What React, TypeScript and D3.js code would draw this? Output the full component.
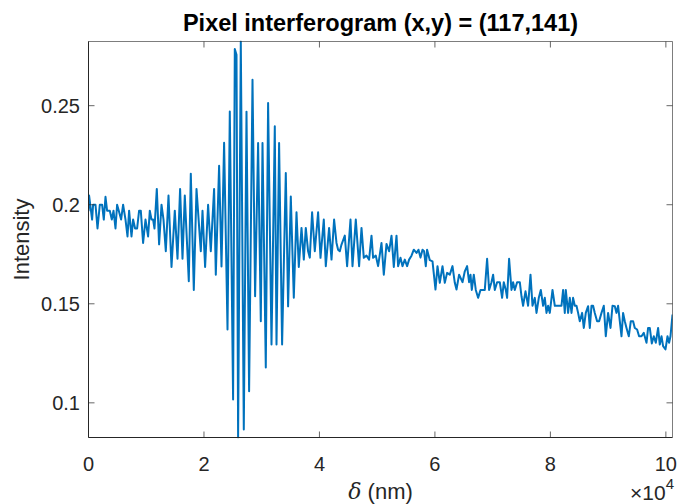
import React from 'react';
import * as d3 from 'd3';

const delta: number[] = [
  0, 104, 624, 797, 1212, 1559, 1957, 2356, 2650, 2944,
  3222, 3689, 4036, 4330, 4676, 4954, 5248, 5646, 5993, 6408,
  6755, 7032, 7448, 7725, 8071, 8418, 8764, 9058, 9457, 9872,
  10323, 10617, 10912, 11189, 11431, 11830, 12228, 12644, 12990, 13388,
  13856, 14376, 14947, 15415, 15865, 16281, 16679, 17372, 17718, 18238,
  18706, 19450, 19745, 20195, 20715, 21182, 21754, 22048,
  22620, 23036, 23486, 24075, 24473, 25045, 25339, 25634, 25911, 26378,
  26898, 27366, 27816, 28405, 28855, 29375, 29842, 30137, 30708, 31107,
  31696, 32267, 32562, 33012, 33532, 34172, 34571, 35038, 35558, 36026,
  36424, 36892, 37290, 37636, 38035, 38329, 38728, 39195, 39767, 40182,
  40754, 41100, 41672,
  42088, 42538, 42954, 43231, 43525, 43820, 44391, 44790, 45378, 45725,
  46296, 46868, 47284, 47682, 48150, 48600, 49016, 49293, 49760, 50159,
  50748, 51146, 51614, 52064, 52480, 52878, 53346, 53623, 54038, 54385,
  54783, 55182, 55528, 55944, 56342, 56810, 57156, 57502, 57849, 58126,
  58420, 58646, 59113, 59581, 60100, 60447, 60845, 61313, 61711, 62110,
  62577, 63045, 63443, 63738, 64188,
  64777, 65175, 65574, 65920, 66162, 66388, 66734, 67080, 67479, 67894,
  68241, 68639, 69038, 69384, 69800, 70077, 70371, 70770, 71237, 71636,
  71930, 72276, 72502, 72848, 73264, 73541, 73835, 74234, 74701, 74996,
  75273, 75688, 76139, 76554, 76901, 77299, 77594, 77992, 78338, 78737,
  79031, 79326, 79603, 79897, 80365, 80763, 81335, 81924, 82201, 82495,
  82668, 83067, 83361, 83656, 83933, 84227, 84522, 84799, 85093, 85492,
  85786, 86132, 86531, 86825, 87120, 87397, 87691, 88090, 88436, 88852,
  89250, 89596, 89995, 90410, 90757, 91155, 91450, 91727, 92021, 92316,
  92593, 92887, 93182, 93580, 93926, 94325, 94619, 95018, 95364, 95780,
  96178, 96646, 96923, 97217, 97564, 97910, 98256, 98655, 98949, 99244,
  99521, 99936, 100283, 100560, 100802, 101149,
];

const intensity: number[] = [
  0.1967, 0.2046, 0.1925, 0.2, 0.2, 0.188, 0.2, 0.2, 0.1925, 0.204,
  0.197, 0.197, 0.1925, 0.197, 0.188, 0.2, 0.197, 0.1925, 0.2, 0.1925,
  0.184, 0.197, 0.184, 0.1925, 0.188, 0.188, 0.197, 0.197, 0.1807, 0.1925,
  0.184, 0.197, 0.1925, 0.1925, 0.188, 0.208, 0.18, 0.2, 0.1925, 0.1765,
  0.2046, 0.1686, 0.197, 0.1727, 0.208, 0.1727, 0.2046, 0.1614, 0.2157, 0.157,
  0.208, 0.1765, 0.197, 0.1686, 0.2, 0.1765, 0.208, 0.1647,
  0.2197, 0.1688, 0.2313, 0.137, 0.2471, 0.1017, 0.2786, 0.2757, 0.0825, 0.2824,
  0.0865, 0.247, 0.1059, 0.2631, 0.1538, 0.2312, 0.1412, 0.2312, 0.1178, 0.2514,
  0.1294, 0.2396, 0.1294, 0.2312, 0.1294, 0.216, 0.1487, 0.2042, 0.153, 0.1962,
  0.1686, 0.1883, 0.1723, 0.1883, 0.1765, 0.1733, 0.1962, 0.1765, 0.1962, 0.1732,
  0.1925, 0.169, 0.1883,
  0.1723, 0.1925, 0.1807, 0.1773, 0.1765, 0.1799, 0.1844, 0.169, 0.1925, 0.169,
  0.1925, 0.169, 0.1883, 0.1732, 0.1743, 0.1723, 0.1844, 0.1732, 0.1743, 0.169,
  0.1807, 0.1647, 0.1802, 0.1765, 0.1844, 0.1686, 0.1844, 0.169, 0.1732, 0.169,
  0.1723, 0.169, 0.1723, 0.1743, 0.1773, 0.1757, 0.1773, 0.1733, 0.1773, 0.1765,
  0.169, 0.1773, 0.172, 0.1714, 0.1572, 0.169, 0.1606, 0.169, 0.1606, 0.1656,
  0.1647, 0.169, 0.1606, 0.1572, 0.1647,
  0.1609, 0.1664, 0.169, 0.1609, 0.1647, 0.157, 0.1647, 0.157, 0.153, 0.157,
  0.157, 0.157, 0.1727, 0.157, 0.1609, 0.1647, 0.157, 0.1609, 0.1609, 0.153,
  0.1609, 0.157, 0.153, 0.1727, 0.157, 0.1609, 0.157, 0.1609, 0.1609, 0.1538,
  0.149, 0.1563, 0.149, 0.1647, 0.149, 0.153, 0.1454, 0.153, 0.157, 0.149,
  0.153, 0.1454, 0.149, 0.1454, 0.157, 0.149, 0.149, 0.149, 0.157, 0.1454,
  0.157, 0.1454, 0.153, 0.1454, 0.153, 0.149, 0.149, 0.1454, 0.1412, 0.1454,
  0.1378, 0.1454, 0.1488, 0.1378, 0.149, 0.149, 0.1454, 0.1412, 0.1412, 0.1454,
  0.149, 0.1336, 0.1454, 0.1378, 0.149, 0.1488, 0.1454, 0.149, 0.1412, 0.1336,
  0.1454, 0.1412, 0.1378, 0.1336, 0.1412, 0.1412, 0.1378, 0.137, 0.1336, 0.1336,
  0.1353, 0.1303, 0.1378, 0.1378, 0.13, 0.1336, 0.1303, 0.1378, 0.1294, 0.1336,
  0.1286, 0.127, 0.1336, 0.1303, 0.1336, 0.1446,
];

const xTicks: number[] = [0, 20000, 40000, 60000, 80000, 100000];
const xTickLabels: string[] = ['0', '2', '4', '6', '8', '10'];
const yTicks: number[] = [0.1, 0.15, 0.2, 0.25];
const yTickLabels: string[] = ['0.1', '0.15', '0.2', '0.25'];
const titleText = 'Pixel interferogram (x,y) = (117,141)';
const yLabel = 'Intensity';
const xExponent = '4';

const FONT = '"Liberation Sans", Arial, Helvetica, sans-serif';

export default function App() {
  const W = 678;
  const H = 504;
  const L = 88.5, R = 672.5, T = 41.5, B = 437.5;
  const n = Math.min(delta.length, intensity.length);
  const pts = d3.range(n).map((i) => [delta[i], intensity[i]] as [number, number]);
  const x = d3.scaleLinear().domain([0, delta[n - 1]]).range([L, R]);
  const ext = d3.extent(intensity.slice(0, n)) as [number, number];
  const y = d3.scaleLinear().domain(ext).range([B, T]);
  const line = d3.line<[number, number]>().x((d) => x(d[0])).y((d) => y(d[1]));
  const axisColor = '#262626';
  const tickLen = 6;

  return (
    <svg width={W} height={H} style={{ position: 'absolute', left: 0, top: 0, background: '#fff' }} fontFamily={FONT}>
      <rect x={0} y={0} width={W} height={H} fill="#ffffff" />
      <defs>
        <clipPath id="plotclip">
          <rect x={L} y={T - 1} width={R - L} height={B - T + 2} />
        </clipPath>
      </defs>
      <path d={line(pts) || ''} fill="none" stroke="#0072BD" strokeWidth={2} strokeLinejoin="round" clipPath="url(#plotclip)" />
      <line x1={L} x2={R} y1={T} y2={T} stroke={axisColor} strokeWidth={1} strokeOpacity={0.6} />
      <line x1={R} x2={R} y1={T} y2={B} stroke={axisColor} strokeWidth={1} strokeOpacity={0.6} />
      <line x1={L} x2={R} y1={B} y2={B} stroke={axisColor} strokeWidth={1} />
      <line x1={L} x2={L} y1={T} y2={B} stroke={axisColor} strokeWidth={1} />
      {xTicks.map((t, i) => (
        <g key={'xt' + i}>
          <line x1={x(t)} x2={x(t)} y1={B} y2={B - tickLen} stroke={axisColor} strokeOpacity={0.7} />
          <line x1={x(t)} x2={x(t)} y1={T} y2={T + tickLen} stroke={axisColor} strokeOpacity={0.7} />
          <text x={x(t)} y={471} textAnchor="middle" fontSize={20} fill={axisColor}>{xTickLabels[i]}</text>
        </g>
      ))}
      {yTicks.map((t, i) => (
        <g key={'yt' + i}>
          <line x1={L} x2={L + tickLen} y1={y(t)} y2={y(t)} stroke={axisColor} strokeOpacity={0.7} />
          <line x1={R} x2={R - tickLen} y1={y(t)} y2={y(t)} stroke={axisColor} strokeOpacity={0.7} />
          <text x={80} y={y(t) + 7} textAnchor="end" fontSize={20} fill={axisColor}>{yTickLabels[i]}</text>
        </g>
      ))}
      <text x={(L + R) / 2} y={31} textAnchor="middle" fontSize={23.5} fontWeight="bold" fill="#000">{titleText}</text>
      <text transform={`translate(29,${(T + B) / 2}) rotate(-90)`} textAnchor="middle" fontSize={22} fill={axisColor}>{yLabel}</text>
      <text x={(L + R) / 2} y={499} textAnchor="middle" fontSize={22} fill={axisColor}>
        <tspan fontFamily='"DejaVu Serif", "Liberation Serif", serif' fontStyle="italic">δ</tspan>
        <tspan> (nm)</tspan>
      </text>
      <text x={674} y={500} textAnchor="end" fontSize={21} fill={axisColor}>
        <tspan>×10</tspan>
        <tspan dy={-11} fontSize={15}>{xExponent}</tspan>
      </text>
    </svg>
  );
}
